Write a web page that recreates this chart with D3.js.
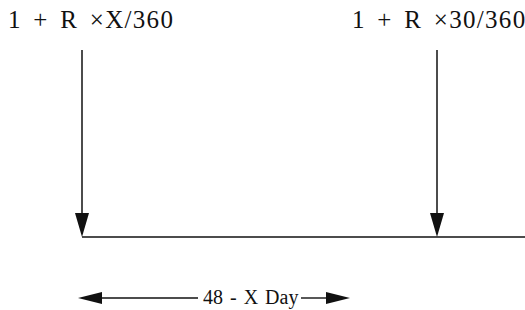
<!DOCTYPE html>
<html><head><meta charset="utf-8">
<script src="https://cdn.jsdelivr.net/npm/d3@7"></script>
<style>body{margin:0;background:#fff}svg{display:block}</style>
</head><body>
<script>
// Data
const pointNames = ["X", "30"];
const pointPos = [0, 1];              // timeline positions (start, end)
const topLabels = ["1 + R \u00d7X/360", "1 + R \u00d730/360"];
const spanLabel = "48 - X Day";

const W = 525, H = 310;
const svg = d3.select("body").append("svg").attr("width", W).attr("height", H);

const x = d3.scaleLinear().domain([0, 1]).range([82, 437]);
const yTop = 50, yLine = 237, yBottom = 298;

const font = "'Liberation Serif', 'DejaVu Serif', serif";

// top labels
const labelLeft = [8, 352];
svg.selectAll("text.top").data(topLabels).join("text")
  .attr("class", "top")
  .attr("x", (d, i) => labelLeft[i]).attr("y", 28)
  .attr("font-family", font).attr("font-size", 25).attr("fill", "#111")
  .style("word-spacing", "4px").style("letter-spacing", "1.3px")
  .text(d => d);

// vertical arrows
const g = svg.append("g");
g.selectAll("line.v").data(pointPos).join("line")
  .attr("x1", d => x(d)).attr("x2", d => x(d))
  .attr("y1", yTop).attr("y2", yLine - 20)
  .attr("stroke", "#111").attr("stroke-width", 1.5);
g.selectAll("path.vh").data(pointPos).join("path")
  .attr("d", d => `M${x(d) - 7},${yLine - 24}L${x(d) + 7},${yLine - 24}L${x(d)},${yLine}Z`)
  .attr("fill", "#111");

// horizontal timeline
svg.append("line")
  .attr("x1", x(0)).attr("x2", W)
  .attr("y1", yLine).attr("y2", yLine)
  .attr("stroke", "#111").attr("stroke-width", 1.5);

// bottom span arrow
const bx0 = 78, bx1 = 350;
svg.append("line").attr("x1", bx0 + 20).attr("x2", 198)
  .attr("y1", yBottom).attr("y2", yBottom).attr("stroke", "#111").attr("stroke-width", 1.4);
svg.append("line").attr("x1", 301).attr("x2", bx1 - 20)
  .attr("y1", yBottom).attr("y2", yBottom).attr("stroke", "#111").attr("stroke-width", 1.4);
svg.append("path").attr("d", `M${bx0},${yBottom}L${bx0 + 24},${yBottom - 6}L${bx0 + 24},${yBottom + 6}Z`).attr("fill", "#111");
svg.append("path").attr("d", `M${bx1},${yBottom}L${bx1 - 24},${yBottom - 6}L${bx1 - 24},${yBottom + 6}Z`).attr("fill", "#111");
svg.append("text").attr("x", 203).attr("y", 304)
  .attr("font-family", font).attr("font-size", 20).attr("fill", "#111")
  .style("word-spacing", "2px")
  .text(spanLabel);
</script>
</body></html>
